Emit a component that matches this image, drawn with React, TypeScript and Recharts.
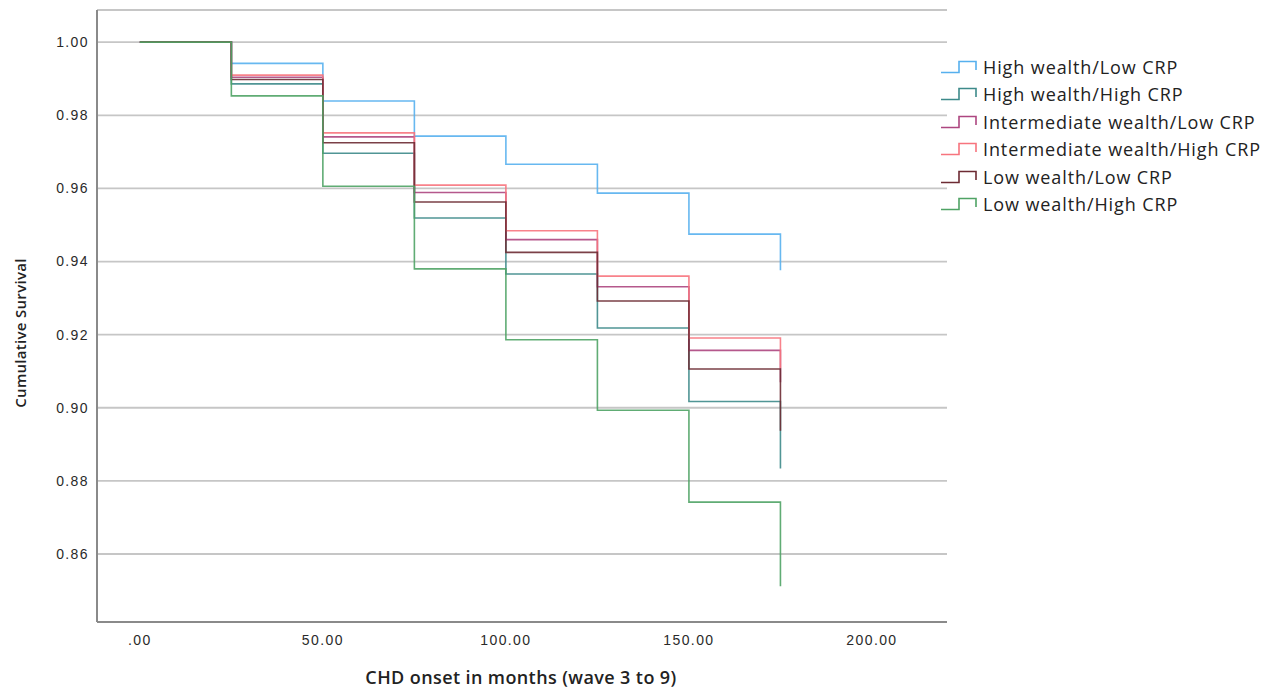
import { CartesianGrid, Label, Legend, Line, LineChart, XAxis, YAxis } from "recharts";

// months at which the survival estimate steps (wave intervals)
const months = [0, 25, 50, 75, 100, 125, 150, 175];

const highWealthLowCrp = [1.0, 0.9942, 0.9839, 0.9743, 0.9666, 0.9587, 0.9475, 0.9376];
const highWealthHighCrp = [1.0, 0.9886, 0.9696, 0.9519, 0.9366, 0.9218, 0.9017, 0.8834];
const intWealthLowCrp = [1.0, 0.9904, 0.9741, 0.9589, 0.946, 0.9331, 0.9157, 0.907];
const intWealthHighCrp = [1.0, 0.991, 0.9752, 0.9609, 0.9484, 0.936, 0.9191, 0.9108];
const lowWealthLowCrp = [1.0, 0.9898, 0.9725, 0.9563, 0.9425, 0.9292, 0.9106, 0.8937];
const lowWealthHighCrp = [1.0, 0.9853, 0.9606, 0.938, 0.9186, 0.8993, 0.8742, 0.8512];

const yTicks = [0.86, 0.88, 0.9, 0.92, 0.94, 0.96, 0.98, 1.0];
const xTicks = [0, 50, 100, 150, 200];

const series = [
  { key: "hl", name: "High wealth/Low CRP", color: "#56b0ee", values: highWealthLowCrp },
  { key: "hh", name: "High wealth/High CRP", color: "#3d8a8a", values: highWealthHighCrp },
  { key: "il", name: "Intermediate wealth/Low CRP", color: "#ad4680", values: intWealthLowCrp },
  { key: "ih", name: "Intermediate wealth/High CRP", color: "#f7747e", values: intWealthHighCrp },
  { key: "ll", name: "Low wealth/Low CRP", color: "#6d2b33", values: lowWealthLowCrp },
  { key: "lh", name: "Low wealth/High CRP", color: "#4fa365", values: lowWealthHighCrp },
];

const data = months.map((m, i) => {
  const row: Record<string, number> = { month: m };
  series.forEach((s) => (row[s.key] = s.values[i]));
  return row;
});

const tickStyle = { fill: "#2a2a2a", fontSize: 14, letterSpacing: 1.4, fontFamily: "'Liberation Sans', Arial, sans-serif" };

function StepLegend() {
  return (
    <div style={{ fontFamily: "'Open Sans', sans-serif", fontSize: 18, color: "#222", letterSpacing: 0.9, lineHeight: 1 }}>
      {series.map((s) => (
        <div key={s.key} style={{ display: "flex", alignItems: "center", height: 27.5 }}>
          <svg width={38} height={14} style={{ marginRight: 5 }}>
            <path d="M1,12.5 H19 V1.5 H36 V10" fill="none" stroke={s.color} strokeWidth={1.6} />
          </svg>
          <span style={{ whiteSpace: "nowrap" }}>{s.name}</span>
        </div>
      ))}
    </div>
  );
}

export default function App() {
  return (
    <div style={{ position: "absolute", left: 0, top: 0, width: 1279, height: 693, background: "#fff" }}>
      <LineChart width={1279} height={693} data={data} margin={{ top: 10, right: 332, bottom: 41, left: 37 }}>
        <CartesianGrid vertical={false} stroke="#c6c6c6" strokeWidth={1.8} />
        <XAxis
          dataKey="month"
          type="number"
          domain={[-11.7, 220.5]}
          ticks={xTicks}
          allowDataOverflow
          tickFormatter={(v: number) => (v === 0 ? ".00" : v.toFixed(2))}
          tickLine={false}
          tickMargin={7}
          height={30}
          axisLine={{ stroke: "#8a8a8a", strokeWidth: 2 }}
          tick={tickStyle}
        >
          <Label
            content={() => (
              <text
                x={521}
                y={684}
                textAnchor="middle"
                fontFamily="'Open Sans', sans-serif"
                fontWeight={600}
                fontSize={18}
                letterSpacing={0.4}
                fill="#222"
              >
                CHD onset in months (wave 3 to 9)
              </text>
            )}
          />
        </XAxis>
        <YAxis
          type="number"
          domain={[0.8414, 1.0088]}
          ticks={yTicks}
          allowDataOverflow
          tickFormatter={(v: number) => v.toFixed(2)}
          tickLine={false}
          width={60}
          axisLine={{ stroke: "#8a8a8a", strokeWidth: 2 }}
          tick={tickStyle}
        >
          <Label
            content={() => (
              <text
                x={26}
                y={333}
                transform="rotate(-90 26 333)"
                textAnchor="middle"
                fontFamily="'Open Sans', sans-serif"
                fontWeight={600}
                fontSize={15}
                letterSpacing={0.3}
                fill="#222"
              >
                Cumulative Survival
              </text>
            )}
          />
        </YAxis>
        <Legend
          layout="horizontal"
          verticalAlign="middle"
          align="center"
          content={StepLegend}
          wrapperStyle={{ position: "absolute", top: 53, left: 940, width: 339 }}
        />
        {series.map((s) => (
          <Line
            key={s.key}
            type="stepAfter"
            dataKey={s.key}
            name={s.name}
            stroke={s.color}
            strokeWidth={1.6}
            strokeOpacity={0.9}
            dot={false}
            activeDot={false}
            isAnimationActive={false}
          />
        ))}
      </LineChart>
    </div>
  );
}
